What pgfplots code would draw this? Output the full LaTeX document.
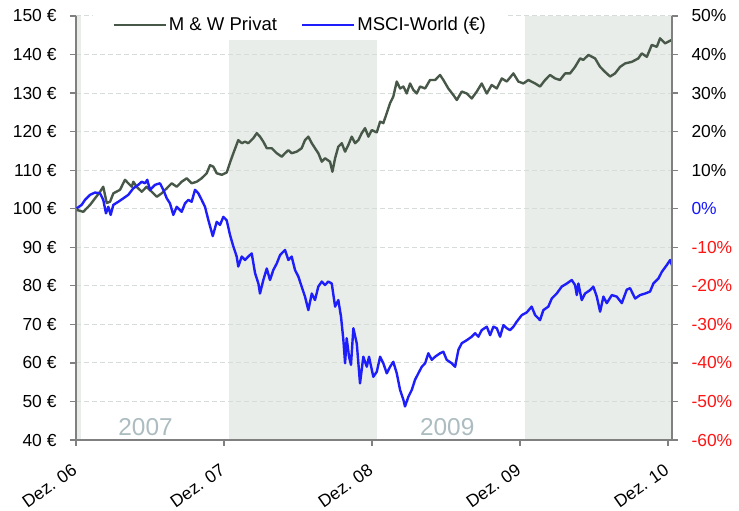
\documentclass[border=0pt]{standalone}
\usepackage{fontspec}
\setmainfont{Liberation Sans}
\usepackage{pgfplots}
\pgfplotsset{compat=1.18}
\definecolor{mwgreen}{RGB}{72,88,72}
\definecolor{msciblue}{RGB}{30,30,250}
\definecolor{band}{RGB}{232,237,233}
\definecolor{gridc}{RGB}{214,221,217}
\definecolor{axc}{RGB}{128,128,128}
\definecolor{yearc}{RGB}{172,188,192}
\definecolor{negred}{RGB}{255,20,20}
\definecolor{zeroblue}{RGB}{20,20,255}
\newcommand{\tfont}{\fontsize{17.5}{20}\selectfont}
\begin{document}
\begin{tikzpicture}
\begin{axis}[
  name=main, set layers,
  width=596bp, height=424bp, scale only axis,
  xmin=0, xmax=48.33, ymin=40, ymax=150,
  axis x line*=bottom, axis y line*=left,
  axis line style={axc, line width=1.5bp},
  tick style={axc, line width=1.2bp}, major tick length=6bp, tick align=outside,
  ytick={40,50,...,150},
  yticklabels={40 €,50 €,60 €,70 €,80 €,90 €,100 €,110 €,120 €,130 €,140 €,150 €},
  xtick={0,12,24,36,48},
  xticklabels={Dez. 06,Dez. 07,Dez. 08,Dez. 09,Dez. 10},
  ticklabel style={font=\tfont},
  yticklabel style={xshift=-10bp},
  xticklabel style={anchor=north east, xshift=-4bp, yshift=-12bp, rotate=35},
  ymajorgrids,
  grid style={gridc, dash pattern=on 5bp off 3bp, line width=1bp},
  legend columns=2,
  legend cell align=left,
  legend image code/.code={\draw[#1] (0bp,0bp) -- (52bp,0bp);},
  legend style={at={(0.376,0.979)}, anchor=center, draw=none, fill=white,
    font=\fontsize{18.6}{21}\selectfont, inner xsep=19bp, inner ysep=6bp,
    /tikz/every even column/.append style={column sep=22bp}},
]
\begin{pgfonlayer}{axis background}
\fill[band] (axis cs:0,40) rectangle (axis cs:0.4,150);
\fill[band] (axis cs:12.4,40) rectangle (axis cs:24.4,150);
\fill[band] (axis cs:36.4,40) rectangle (axis cs:48.33,150);
\end{pgfonlayer}
\addplot[mwgreen, line width=2.4bp, line join=round] coordinates {
(0.06,99.7)(0.59,99.2)(1.14,101)(1.95,104.4)(2.21,105.7)(2.49,101.5)(2.76,101.8)(3.03,104)
(3.57,104.9)(3.97,107.5)(4.24,106.6)(4.52,105.7)(4.65,107)(4.92,105.7)(5.33,104.4)(5.73,105.7)
(6.14,104.4)(6.55,103.1)(6.95,104)(7.36,105.3)(7.76,106.6)(8.17,105.7)(8.57,107)(8.98,107.9)
(9.38,106.6)(9.79,107)(10.19,107.9)(10.60,109.2)(10.87,111.3)(11.14,110.9)(11.41,109.2)(11.82,108.8)
(12.22,109.4)(12.49,112)(12.76,114.4)(13.16,117.8)(13.44,117)(13.71,117.4)(13.97,117)(14.38,118.3)
(14.66,119.6)(14.92,118.7)(15.19,117.4)(15.47,115.7)(15.87,115.7)(16.28,114.4)(16.68,113.5)(16.95,114.4)
(17.22,115.2)(17.49,114.4)(17.90,114.8)(18.30,115.7)(18.57,117.8)(18.84,118.7)(19.12,117)(19.38,115.7)
(19.65,114.4)(19.93,112.2)(20.19,113.1)(20.60,112.2)(20.79,109.6)(21.01,113.1)(21.27,116.1)(21.55,117)
(21.82,114.8)(22.08,116.5)(22.36,118.7)(22.63,117)(22.90,117.8)(23.17,119.6)(23.44,120.9)(23.71,118.7)
(23.98,120.4)(24.39,119.8)(24.66,122.6)(24.92,122.2)(25.20,124.8)(25.47,127.4)(25.73,129.1)(26.01,133)
(26.28,131.2)(26.55,131.7)(26.82,129.9)(27.09,132.5)(27.36,130.8)(27.63,129.9)(27.90,131.7)(28.31,131.2)
(28.71,133.4)(29.12,133.4)(29.52,134.7)(29.79,133.4)(30.19,131.2)(30.60,129.5)(30.88,128.2)(31.28,130.4)
(31.69,129.9)(32.09,128.6)(32.50,130.4)(32.90,132.5)(33.31,129.9)(33.71,132.1)(34.12,131.2)(34.53,133.8)
(34.93,133)(35.47,135.1)(35.87,133)(36.28,132.5)(36.68,133.4)(37.23,132.5)(37.63,131.7)(38.04,133.4)
(38.44,134.7)(38.85,133.8)(39.25,133.4)(39.66,135.1)(40.06,135.1)(40.47,136.8)(40.88,139)(41.14,138.6)
(41.55,139.9)(42.09,139)(42.50,136.8)(42.90,135.5)(43.31,134.3)(43.71,135.1)(44.12,136.8)(44.53,137.7)
(45.07,138.1)(45.60,139)(45.88,140.3)(46.29,139.4)(46.69,142.5)(47.10,142)(47.36,144.2)(47.77,142.9)
(48.31,143.8)
};
\addlegendentry{M \& W Privat}
\addplot[msciblue, line width=2.4bp, line join=round] coordinates {
(0.06,100.1)(0.46,101)(0.73,102.3)(1.14,103.6)(1.54,104.2)(1.95,104)(2.21,102.3)(2.43,98.8)
(2.62,100.5)(2.81,98.4)(3.03,101)(3.43,101.8)(3.84,102.7)(4.24,103.6)(4.65,105.3)(5.05,106.2)
(5.33,107)(5.60,106.6)(5.78,107.5)(6.00,104.9)(6.41,106.2)(6.81,106.6)(7.08,104.9)(7.36,102.7)
(7.62,101.4)(7.89,98.4)(8.17,100.5)(8.57,99.2)(8.84,101.4)(9.11,102.3)(9.38,101.8)(9.65,104.9)
(9.92,104)(10.19,102.3)(10.46,100.5)(10.73,97.1)(11.09,92.9)(11.41,96.6)(11.68,95.8)(11.95,97.9)
(12.22,97)(12.49,93.2)(12.76,90.2)(13.03,87.6)(13.16,85)(13.44,87.6)(13.71,86.7)(13.97,87.6)
(14.25,88.4)(14.52,83.3)(14.79,80.6)(14.92,78)(15.19,81.5)(15.47,84.5)(15.73,81.5)(16.00,84.1)
(16.28,85.8)(16.55,88)(16.95,89.3)(17.22,86.7)(17.49,87.6)(17.76,84.1)(18.03,82.4)(18.30,79.8)
(18.57,77.2)(18.84,73.7)(19.12,78)(19.38,76.3)(19.65,79.8)(19.93,81.1)(20.19,80.2)(20.46,81.1)
(20.74,80.6)(21.01,74.6)(21.27,76.3)(21.49,72)(21.68,66)(21.82,59.9)(21.95,66.4)(22.14,61.6)
(22.30,59.5)(22.49,69)(22.77,65)(23.03,54.7)(23.30,61.6)(23.58,59)(23.76,61.6)(24.11,56.4)
(24.39,57.7)(24.66,61.6)(24.92,59.9)(25.20,57.3)(25.47,59)(25.73,60.3)(26.01,57.3)(26.28,53)
(26.55,50.4)(26.68,48.7)(26.95,51.2)(27.23,53)(27.49,55.6)(27.76,57.3)(28.04,59)(28.31,59.9)
(28.57,62.5)(28.85,60.8)(29.12,61.6)(29.52,62.5)(29.79,62.9)(30.06,60.8)(30.47,59.9)(30.74,59)
(31.01,63.4)(31.28,65.1)(31.69,65.9)(32.09,66.8)(32.36,67.7)(32.63,66.8)(32.90,68.5)(33.31,69.4)
(33.58,67.2)(33.85,69.4)(34.12,69)(34.39,66.8)(34.66,69.8)(34.93,69)(35.20,68.5)(35.47,69.4)
(35.74,70.7)(36.15,72.4)(36.55,73.1)(36.95,74.6)(37.23,72.4)(37.63,71.1)(37.90,73.7)(38.30,74.6)
(38.58,76.7)(38.98,78)(39.39,79.8)(39.80,80.6)(40.20,81.5)(40.47,80.2)(40.61,77.6)(40.74,80.6)
(41.01,76.3)(41.28,78)(41.69,78.9)(41.95,79.8)(42.23,77.2)(42.50,73.3)(42.77,77.2)(43.04,75.5)
(43.45,77.6)(43.85,77.2)(44.26,75.5)(44.66,79)(44.93,79.4)(45.34,76.7)(45.74,77.6)(46.15,78)
(46.55,78.5)(46.82,80.6)(47.23,81.9)(47.50,83.6)(47.91,85.4)(48.18,86.7)(48.36,85)
};
\addlegendentry{MSCI-World (€)}
\node[yearc, font=\fontsize{24.5}{26}\selectfont] at (axis cs:5.64,43.4) {2007};
\node[yearc, font=\fontsize{24.5}{26}\selectfont] at (axis cs:30.1,43.4) {2009};
\end{axis}
\begin{axis}[
  width=596bp, height=424bp, scale only axis,
  xmin=0, xmax=48.33, ymin=-60, ymax=50,
  hide x axis, xtick=\empty, axis y line*=right,
  axis line style={axc, line width=1.5bp},
  tick style={axc, line width=1.2bp}, major tick length=6bp, tick align=outside,
  ytick={-60,-50,...,50},
  yticklabels={\textcolor{negred}{-60\%},\textcolor{negred}{-50\%},\textcolor{negred}{-40\%},\textcolor{negred}{-30\%},\textcolor{negred}{-20\%},\textcolor{negred}{-10\%},\textcolor{zeroblue}{0\%},10\%,20\%,30\%,40\%,50\%},
  ticklabel style={font=\tfont},
  yticklabel style={xshift=10bp},
]
\addplot[draw=none] coordinates {(0,0)};
\end{axis}
\pgfresetboundingbox
\path[use as bounding box] ([xshift=-76bp,yshift=-71bp]main.south west) rectangle ([xshift=67bp,yshift=16bp]main.north east);
\end{tikzpicture}
\end{document}
